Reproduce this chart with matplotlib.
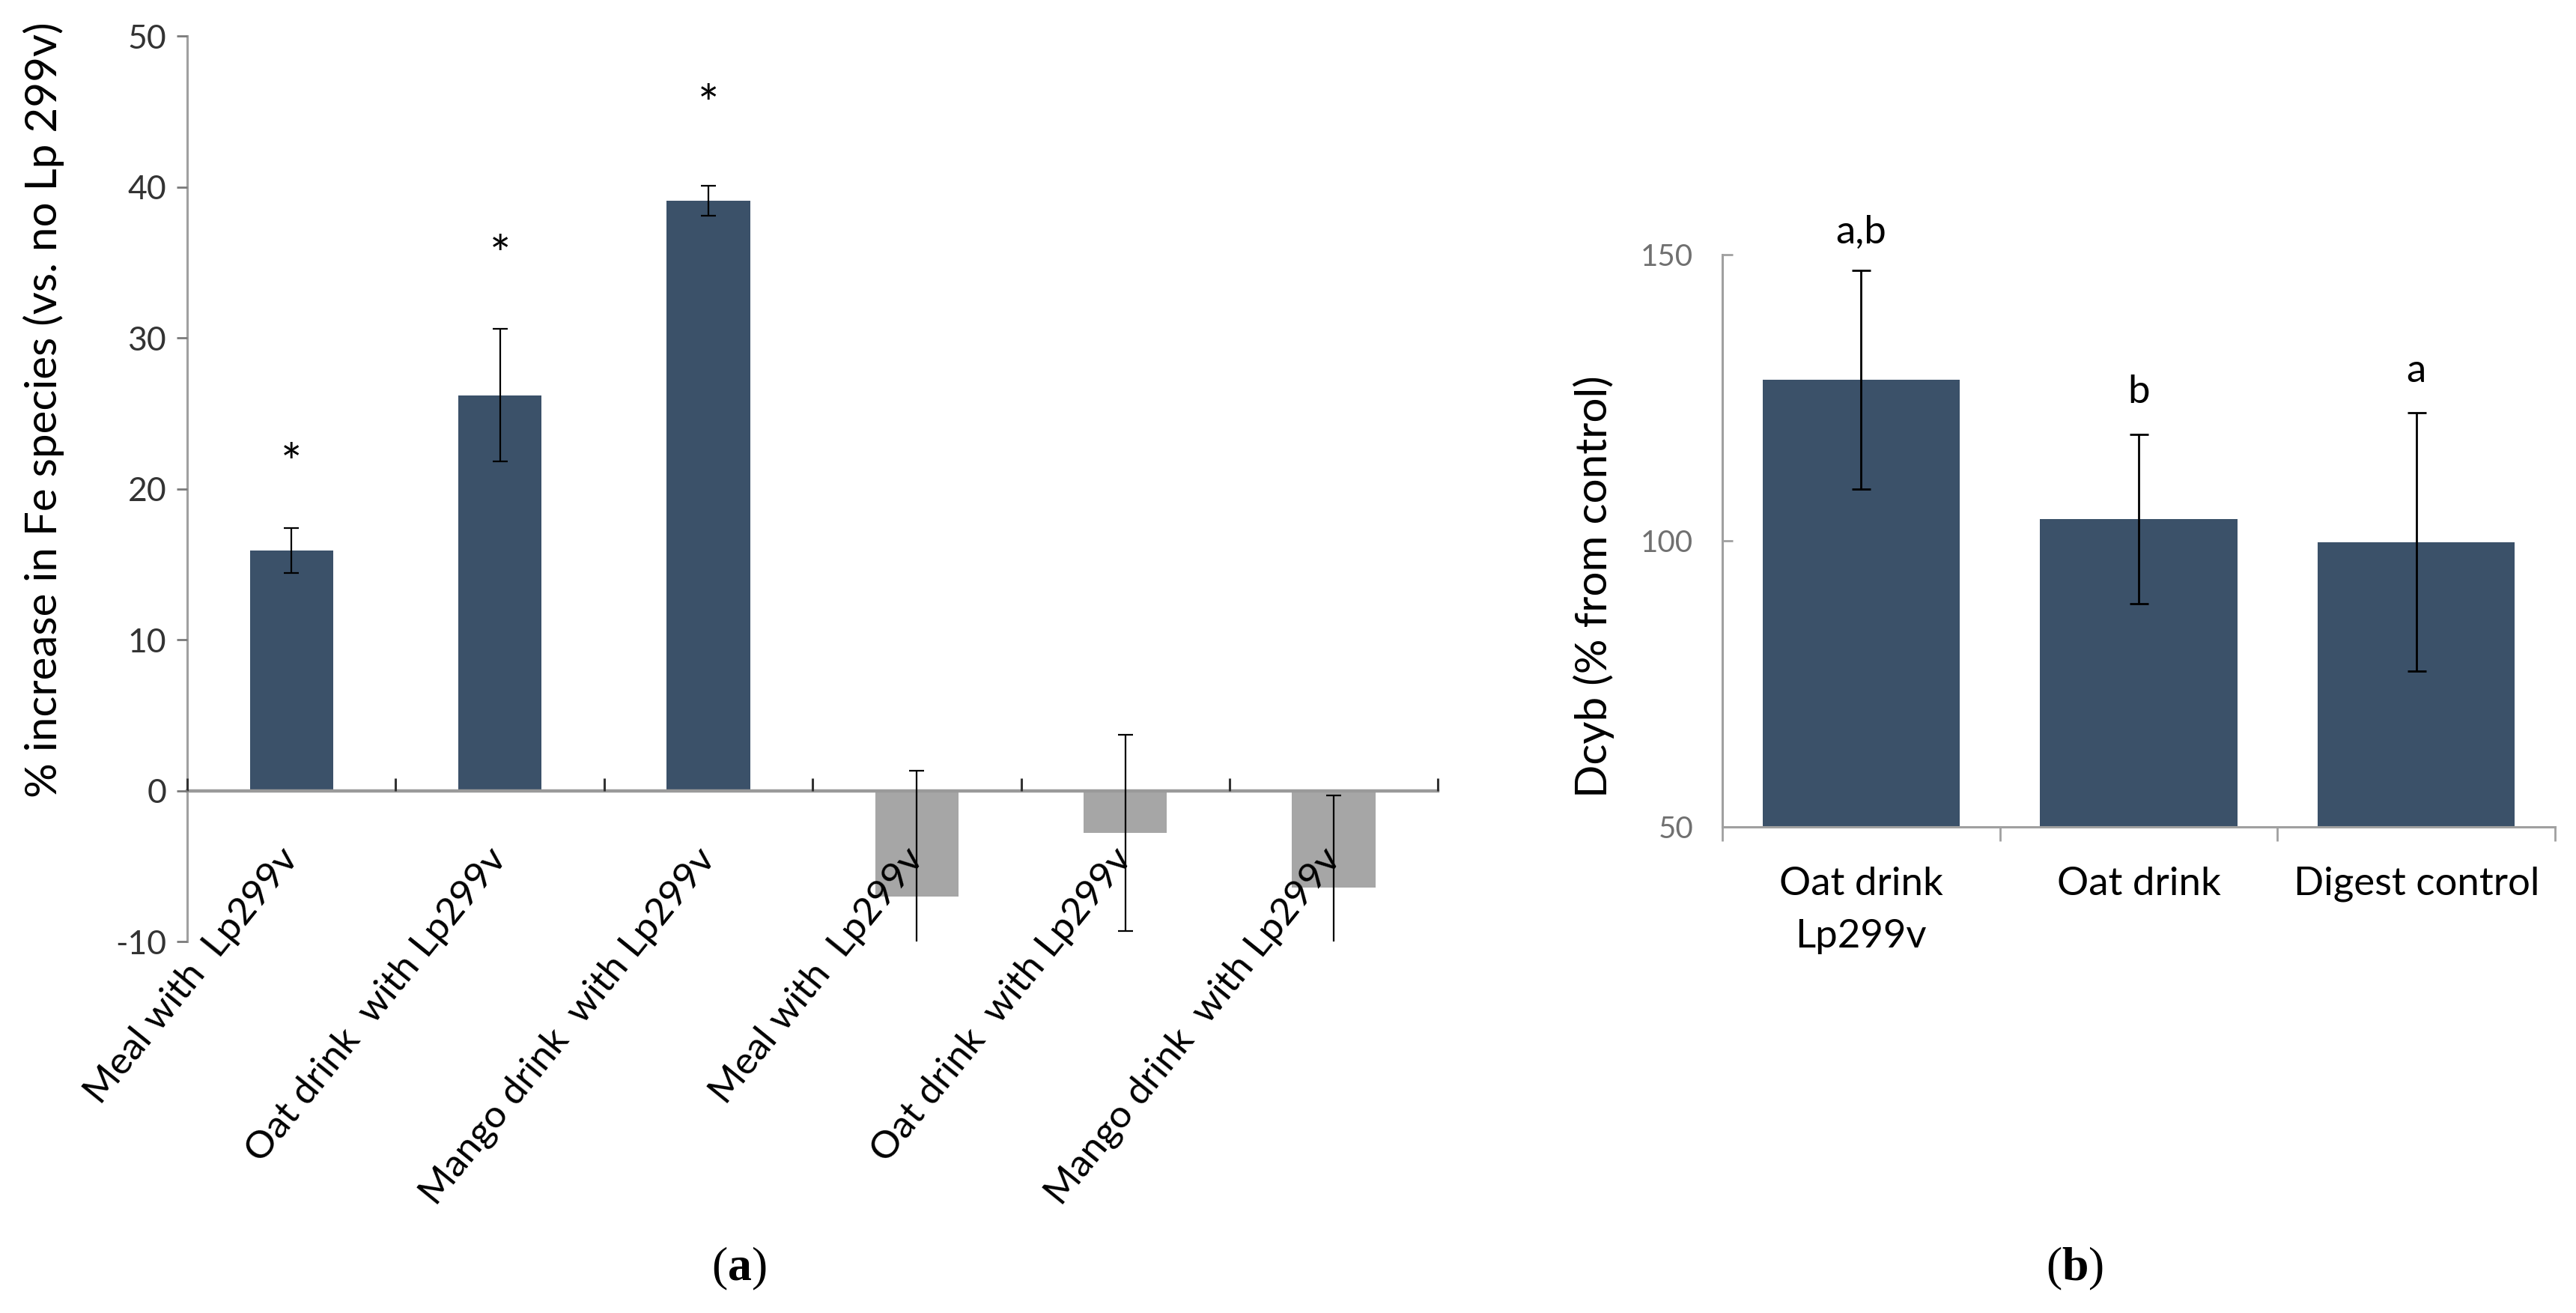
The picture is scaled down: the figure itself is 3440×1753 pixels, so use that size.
import matplotlib
matplotlib.use('Agg')
import matplotlib.pyplot as plt
import numpy as np

plt.rcParams['font.family'] = ['Lato', 'DejaVu Sans']
plt.rcParams['mathtext.fontset'] = 'custom'
plt.rcParams['mathtext.rm'] = 'Liberation Serif'
plt.rcParams['mathtext.bf'] = 'Liberation Serif:bold'

# ---------------- data ----------------
a_labels = ['Meal with  Lp299v', 'Oat drink  with Lp299v', 'Mango drink  with Lp299v',
            'Meal with  Lp299v', 'Oat drink  with Lp299v', 'Mango drink  with Lp299v']
a_values = [15.9, 26.2, 39.1, -7.0, -2.8, -6.4]
a_errors = [1.5, 4.4, 1.0, 8.3, 6.5, 6.1]
a_sig = ['*', '*', '*']
a_sig_y = [21.5, 35.3, 45.3]
a_yticks = [-10, 0, 10, 20, 30, 40, 50]

b_labels = ['Oat drink\nLp299v', 'Oat drink', 'Digest control']
b_values = [128.2, 103.8, 99.8]
b_errors = [19.1, 14.8, 22.6]
b_letters = ['a,b', 'b', 'a']
b_letter_y = [152.0, 124.1, 127.8]
b_yticks = [50, 100, 150]

DARK = '#3B5169'
GRAY = '#A6A6A6'
AXC = '#A0A0A0'

fig = plt.figure(figsize=(34.4, 17.53), dpi=100)

# ---------------- panel (a) ----------------
axa = fig.add_axes([0.0727, 0.2829, 0.4855, 0.6897])
axa.set_axisbelow(False)
xa = np.arange(len(a_values))
cols = [DARK if v >= 0 else GRAY for v in a_values]
axa.bar(xa, a_values, width=0.40, color=cols, zorder=2)
axa.errorbar(xa, a_values, yerr=a_errors, fmt='none', ecolor='black',
             elinewidth=1.6, capsize=7.5, capthick=1.6, zorder=3)
for i, (s, y) in enumerate(zip(a_sig, a_sig_y)):
    axa.text(xa[i], y, s, ha='center', va='center', fontsize=48, color='black')
axa.set_xlim(-0.5, len(a_values) - 0.5)
axa.set_ylim(-10, 50)
axa.set_yticks(a_yticks)
axa.set_yticklabels([str(t) for t in a_yticks], fontsize=32, color='#333333')
for sp in ['top', 'right']:
    axa.spines[sp].set_visible(False)
axa.spines['bottom'].set_position(('data', 0))
axa.spines['bottom'].set_color('#9A9A9A')
axa.spines['bottom'].set_linewidth(3.2)
axa.spines['left'].set_color(AXC)
axa.spines['left'].set_linewidth(2.2)
axa.tick_params(axis='y', direction='out', length=10, width=2, color='#7A7A7A', pad=10)
axa.set_xticks(xa)
axa.set_xticklabels(a_labels, rotation=51, ha='right', va='center',
                    rotation_mode='anchor', fontsize=37, color='black')
axa.tick_params(axis='x', which='major', length=0, pad=60)
axa.set_xticks(np.arange(-0.5, len(a_values)), minor=True)
axa.tick_params(axis='x', which='minor', direction='in', length=12, width=2.2, color='#333333')
fig.text(0.017, 1 - 547 / 1753, '% increase in Fe species (vs. no Lp 299v)',
         rotation=90, ha='center', va='center', fontsize=42, color='black')
fig.text(987 / 3440, 1 - 1694 / 1753, r'($\mathbf{a}$)', ha='center', va='center',
         fontsize=46, family='Liberation Serif', color='black')

# ---------------- panel (b) ----------------
axb = fig.add_axes([0.6686, 0.3702, 0.3233, 0.4358])
xb = np.arange(len(b_values))
axb.bar(xb, b_values, width=0.71, color=DARK, zorder=2)
axb.errorbar(xb, b_values, yerr=b_errors, fmt='none', ecolor='black',
             elinewidth=2.0, capsize=9, capthick=2.0, zorder=3)
for i, (s, y) in enumerate(zip(b_letters, b_letter_y)):
    axb.text(xb[i], y, s, ha='center', va='baseline', fontsize=38, color='black')
axb.set_xlim(-0.5, len(b_values) - 0.5)
axb.set_ylim(50, 150)
axb.set_yticks(b_yticks)
axb.set_yticklabels([str(t) for t in b_yticks], fontsize=29, color='#707070')
for sp in ['top', 'right']:
    axb.spines[sp].set_visible(False)
for sp in ['left', 'bottom']:
    axb.spines[sp].set_color(AXC)
    axb.spines[sp].set_linewidth(2.2)
axb.tick_params(axis='y', direction='in', length=10, width=2, color=AXC, pad=28)
axb.set_xticks(xb)
axb.set_xticklabels(b_labels, fontsize=38, color='black', linespacing=1.6, va='top')
axb.tick_params(axis='x', which='major', length=0, pad=38)
axb.set_xticks(np.arange(-0.5, len(b_values)), minor=True)
axb.tick_params(axis='x', which='minor', direction='out', length=14, width=2, color=AXC)
fig.text(2128 / 3440, 1 - 783 / 1753, 'Dcyb (% from control)', rotation=90,
         ha='center', va='center', fontsize=42, color='black')
fig.text(2771 / 3440, 1 - 1694 / 1753, r'($\mathbf{b}$)', ha='center', va='center',
         fontsize=46, family='Liberation Serif', color='black')

fig.savefig('out.png', dpi=100, facecolor='white')
